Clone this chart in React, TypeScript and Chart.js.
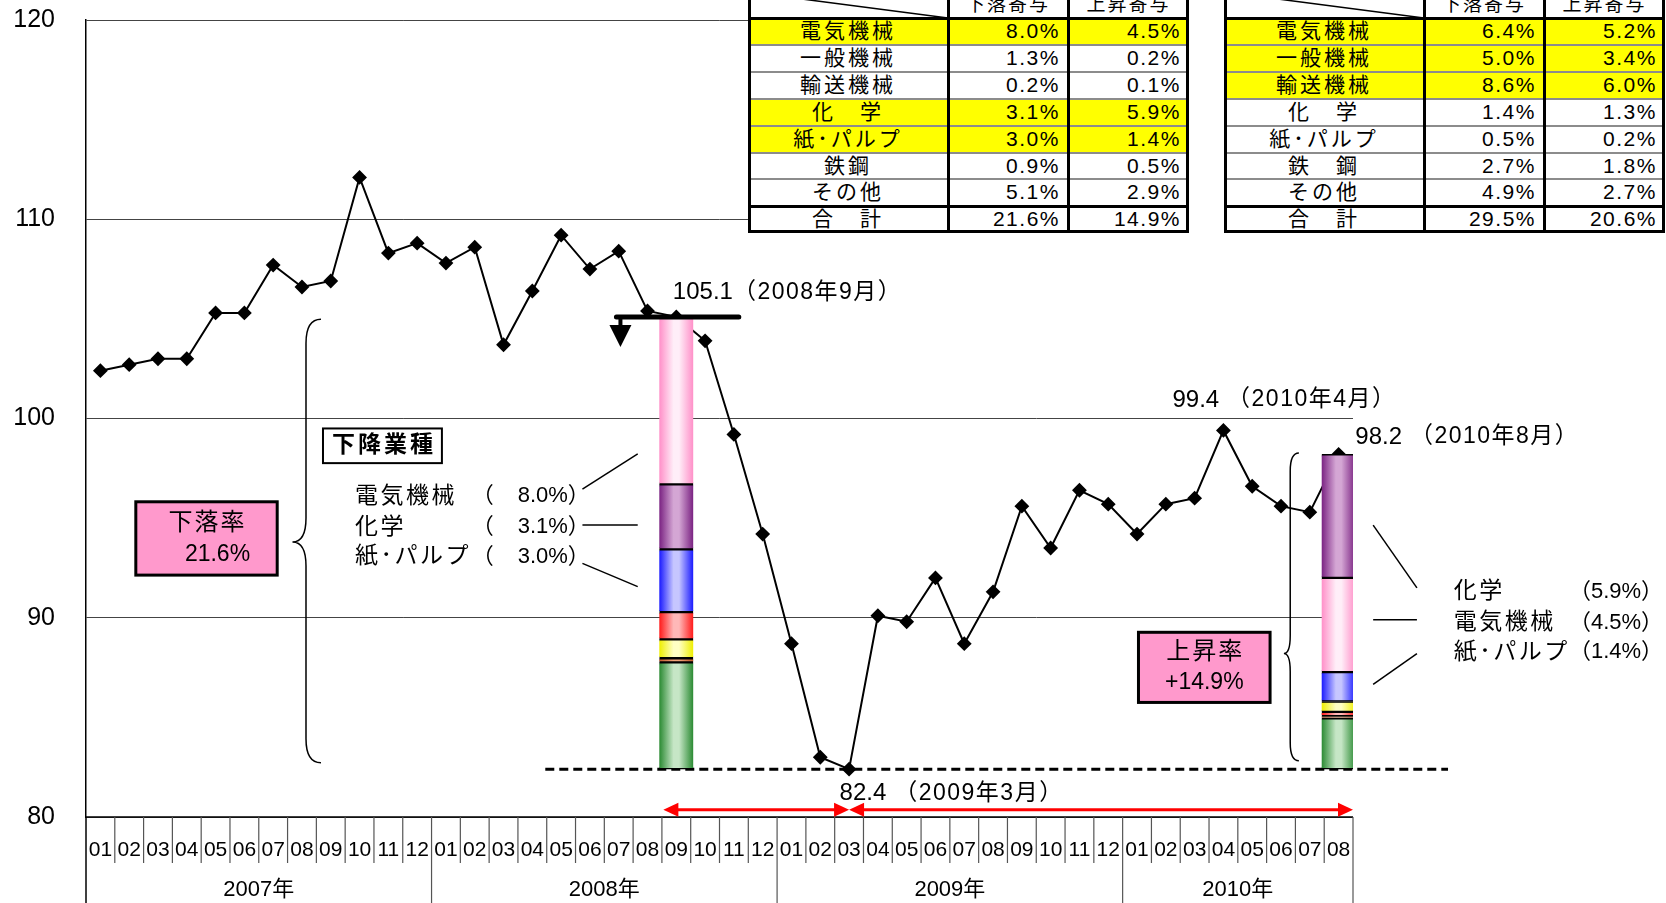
import React, { useEffect, useRef } from 'react';
import { Chart, registerables } from 'chart.js';

Chart.register(...registerables);

const FONT = '"Liberation Sans", "Noto Sans CJK JP", sans-serif';

// 月ラベル（2007年01月〜2010年08月）
const monthLabels = [
  '01', '02', '03', '04', '05', '06', '07', '08', '09', '10', '11', '12',
  '01', '02', '03', '04', '05', '06', '07', '08', '09', '10', '11', '12',
  '01', '02', '03', '04', '05', '06', '07', '08', '09', '10', '11', '12',
  '01', '02', '03', '04', '05', '06', '07', '08',
];
const yearLabels = ['2007年', '2008年', '2009年', '2010年'];
const monthsInYear = [12, 12, 12, 8];

// 生産指数
const indexValues = [
  102.4, 102.7, 103.0, 103.0, 105.3, 105.3, 107.7, 106.6, 106.9, 112.1, 108.3, 108.8,
  107.8, 108.6, 103.7, 106.4, 109.2, 107.5, 108.4, 105.4, 105.1, 103.9, 99.2, 94.2,
  88.7, 83.0, 82.4, 90.1, 89.8, 92.0, 88.7, 91.3, 95.6, 93.5, 96.4, 95.7,
  94.2, 95.7, 96.0, 99.4, 96.6, 95.6, 95.3, 98.2,
];

// 業種別寄与度
const industries = ['電気機械', '一般機械', '輸送機械', '化学', '紙･パルプ', '鉄鋼', 'その他'];
const table1Names = ['電気機械', '一般機械', '輸送機械', '化　学', '紙･パルプ', '鉄鋼', 'その他'];
const table2Names = ['電気機械', '一般機械', '輸送機械', '化　学', '紙･パルプ', '鉄　鋼', 'その他'];
const tableHeads = ['下落寄与', '上昇寄与'];
const fall1 = [8.0, 1.3, 0.2, 3.1, 3.0, 0.9, 5.1];
const rise1 = [4.5, 0.2, 0.1, 5.9, 1.4, 0.5, 2.9];
const fall2 = [6.4, 5.0, 8.6, 1.4, 0.5, 2.7, 4.9];
const rise2 = [5.2, 3.4, 6.0, 1.3, 0.2, 1.8, 2.7];
const totals1 = [21.6, 14.9];
const totals2 = [29.5, 20.6];
const marked1 = [0, 3, 4];
const marked2 = [0, 1, 2];

const peakAt = 20;   // 2008年9月
const troughAt = 26; // 2009年3月
const highAt = 39;   // 2010年4月
const lastAt = 43;   // 2010年8月
const fallOrder = [0, 3, 4, 1, 5, 2, 6];
const riseOrder = [3, 0, 4, 5, 1, 2, 6];

// [縁の色, 中央の色]
const segColors = [
  ['#ff8fc8', '#ffeef8'],
  ['#ff1a1a', '#ffb8b8'],
  ['#c0582a', '#f2a47a'],
  ['#7a2282', '#d4a6d4'],
  ['#1a1aff', '#c6c6ff'],
  ['#eeee00', '#ffffc4'],
  ['#2a8a32', '#c6e6c6'],
];

const BAR_W = 34;
const AREA = { left: 86, top: 20, right: 1353, bottom: 817 };

function stack(order: number[], pct: number[], top: number, bottom: number) {
  const out: [number, number][] = [];
  let cur = top;
  order.forEach((k, n) => {
    const h = (pct[k] * indexValues[peakAt]) / 100;
    const lo = n === order.length - 1 ? bottom : Math.max(bottom, cur - h);
    out[k] = [lo, cur];
    cur = lo;
  });
  return out;
}

const fallStack = stack(fallOrder, fall1, indexValues[peakAt], indexValues[troughAt]);
const riseStack = stack(riseOrder, rise1, indexValues[lastAt], indexValues[troughAt]);

const grad = (dark: string, light: string) => (c: any) => {
  const chart = c.chart;
  const xs = chart.scales && chart.scales.x;
  if (c.type !== 'data' || !xs) return light;
  const cx = xs.getPixelForValue(c.dataIndex);
  if (!Number.isFinite(cx)) return light;
  const g = chart.ctx.createLinearGradient(cx - BAR_W / 2, 0, cx + BAR_W / 2, 0);
  g.addColorStop(0, dark);
  g.addColorStop(0.42, light);
  g.addColorStop(0.58, light);
  g.addColorStop(1, dark);
  return g;
};

const F = (size: number, bold = false) => `${bold ? 'bold ' : ''}${size}px ${FONT}`;

const decor = {
  id: 'decor',
  beforeDatasetsDraw(chart: any) {
    const { ctx } = chart;
    const X = (i: number) => chart.scales.x.getPixelForValue(i);
    const Y = (v: number) => chart.scales.y.getPixelForValue(v);
    ctx.save();
    ctx.strokeStyle = '#000';
    ctx.lineWidth = 3;
    ctx.setLineDash([9, 5]);
    ctx.beginPath();
    ctx.moveTo(X(15.45), Y(indexValues[troughAt]));
    ctx.lineTo(X(46.8), Y(indexValues[troughAt]));
    ctx.stroke();
    ctx.restore();
  },
  afterDatasetsDraw(chart: any) {
    const { ctx, chartArea } = chart;
    const X = (i: number) => chart.scales.x.getPixelForValue(i);
    const Y = (v: number) => chart.scales.y.getPixelForValue(v);
    const base = chartArea.bottom;
    const H = chart.height;
    ctx.save();

    const seg = (pts: number[][], w: number, color = '#000') => {
      ctx.strokeStyle = color;
      ctx.lineWidth = w;
      ctx.beginPath();
      pts.forEach(([x, y], n) => (n ? ctx.lineTo(x, y) : ctx.moveTo(x, y)));
      ctx.stroke();
    };
    const text = (s: string, x: number, y: number, font: string, align = 'left', spacing = 0) => {
      ctx.font = font;
      ctx.fillStyle = '#000';
      ctx.textAlign = align;
      ctx.textBaseline = 'middle';
      ctx.letterSpacing = `${spacing}px`;
      ctx.fillText(s, align === 'center' ? x + spacing / 2 : x, y);
      const w = ctx.measureText(s).width;
      ctx.letterSpacing = '0px';
      return w;
    };

    // x軸（月・年）
    seg([[chartArea.left, base], [chartArea.right, base]], 1.5);
    const edges: number[] = [];
    let acc = 0;
    monthsInYear.forEach((n) => { edges.push(acc); acc += n; });
    edges.push(acc);
    for (let k = 0; k <= monthLabels.length; k++) {
      const x = X(k - 0.5);
      const major = edges.includes(k);
      seg([[x, base], [x, major ? H : base + 46]], k === 0 ? 1.5 : 1.2, k === 0 ? '#000' : '#555');
    }
    monthLabels.forEach((m, k) => text(m, X(k), base + 33, F(21), 'center'));
    yearLabels.forEach((y, j) => {
      const cx = (X(edges[j] - 0.5) + X(edges[j + 1] - 0.5)) / 2;
      text(y, cx, base + 73, F(22), 'center');
    });

    // 2008年9月の水準線と下向き矢印
    const yPeak = Y(indexValues[peakAt]);
    ctx.lineCap = 'round';
    seg([[X(17.92), yPeak], [X(22.17), yPeak]], 5);
    ctx.lineCap = 'butt';
    const ax = X(18.06);
    seg([[ax, yPeak], [ax, yPeak + 12]], 4);
    ctx.fillStyle = '#000';
    ctx.beginPath();
    ctx.moveTo(ax - 11, yPeak + 8);
    ctx.lineTo(ax + 11, yPeak + 8);
    ctx.lineTo(ax, yPeak + 30);
    ctx.closePath();
    ctx.fill();

    // 赤い両矢印
    const yR = Y(80.37);
    const head = (tip: number, dir: number) => {
      ctx.fillStyle = '#ff0000';
      ctx.beginPath();
      ctx.moveTo(tip, yR);
      ctx.lineTo(tip - dir * 15, yR - 7);
      ctx.lineTo(tip - dir * 15, yR + 7);
      ctx.closePath();
      ctx.fill();
    };
    const xa = X(19.55), xb = X(troughAt), xc = X(43.5);
    seg([[xa + 8, yR], [xb - 8, yR]], 3, '#ff0000');
    seg([[xb + 8, yR], [xc - 8, yR]], 3, '#ff0000');
    head(xa, -1); head(xb, 1); head(xb, -1); head(xc, 1);

    // 数値ラベル
    const callout = (idx: number, i: number, v: number, gap: string) => {
      const val = indexValues[idx].toFixed(1);
      const w = text(val, X(i), Y(v), F(24));
      text(`${gap}（${2007 + Math.floor(idx / 12)}年${(idx % 12) + 1}月）`, X(i) + w, Y(v), F(23), 'left', 1.5);
    };
    callout(peakAt, 19.88, 106.31, '');
    callout(highAt, 37.23, 100.93, ' ');
    callout(lastAt, 43.58, 99.07, ' ');
    callout(troughAt, 25.67, 81.17, ' ');

    // 率の枠
    const rateBox = (i1: number, i2: number, v1: number, v2: number, title: string, value: string, shift: number) => {
      const x1 = X(i1), x2 = X(i2), y1 = Y(v1), y2 = Y(v2);
      ctx.fillStyle = '#ff99cc';
      ctx.fillRect(x1, y1, x2 - x1, y2 - y1);
      ctx.strokeStyle = '#000';
      ctx.lineWidth = 3;
      ctx.strokeRect(x1, y1, x2 - x1, y2 - y1);
      const cx = (x1 + x2) / 2;
      text(title, cx, y1 + (y2 - y1) * 0.29, F(24), 'center', 2);
      text(value, cx + shift, y1 + (y2 - y1) * 0.72, F(23), 'center');
    };
    rateBox(1.23, 6.14, 95.82, 92.14, '下落率', `${totals1[0]}%`, 11);
    rateBox(36.05, 40.62, 89.27, 85.75, '上昇率', `+${totals1[1]}%`, 0);

    // 中括弧
    const brace = (xTip: number, xSp: number, xEnd: number, vTop: number, vTip: number, vBot: number, r: number) => {
      const yT = Y(vTop), yM = Y(vTip), yB = Y(vBot);
      ctx.strokeStyle = '#000';
      ctx.lineWidth = 1.5;
      ctx.beginPath();
      ctx.moveTo(xEnd, yT);
      ctx.quadraticCurveTo(xSp, yT, xSp, yT + r);
      ctx.lineTo(xSp, yM - r);
      ctx.quadraticCurveTo(xSp, yM, xTip, yM);
      ctx.quadraticCurveTo(xSp, yM, xSp, yM + r);
      ctx.lineTo(xSp, yB - r);
      ctx.quadraticCurveTo(xSp, yB, xEnd, yB);
      ctx.stroke();
    };
    brace(X(6.67), X(7.14), X(7.66), 104.98, 93.8, 82.72, 24);
    brace(X(41.1), X(41.32), X(41.62), 98.27, 88.2, 82.82, 18);

    // 下降業種
    const bx1 = X(7.73), bx2 = X(11.86), by1 = Y(99.5), by2 = Y(97.76);
    ctx.fillStyle = '#fff';
    ctx.fillRect(bx1, by1, bx2 - bx1, by2 - by1);
    ctx.strokeStyle = '#000';
    ctx.lineWidth = 2;
    ctx.strokeRect(bx1, by1, bx2 - bx1, by2 - by1);
    text('下降業種', (bx1 + bx2) / 2, (by1 + by2) / 2, F(23, true), 'center', 3);

    // 業種リスト（左：下落、右：上昇）
    const leftRows = [96.09, 94.54, 93.05];
    fallOrder.slice(0, 3).forEach((k, n) => {
      const y = Y(leftRows[n]);
      text(industries[k], X(8.84), y, F(23), 'left', 2.5);
      text('（', X(12.9), y, F(22));
      text(`${fall1[k].toFixed(1)}%）`, X(14.49), y, F(22));
    });
    seg([[X(16.74), Y(96.46)], [X(18.66), Y(98.22)]], 1.5);
    seg([[X(16.74), Y(94.65)], [X(18.66), Y(94.65)]], 1.5);
    seg([[X(16.74), Y(92.73)], [X(18.66), Y(91.56)]], 1.5);

    const rightRows = [91.29, 89.75, 88.26];
    riseOrder.slice(0, 3).forEach((k, n) => {
      const y = Y(rightRows[n]);
      text(industries[k], X(47.0), y, F(23), 'left', 2.5);
      text(`（${rise1[k].toFixed(1)}%）`, X(51.0), y, F(22));
    });
    seg([[X(44.2), Y(94.65)], [X(45.72), Y(91.5)]], 1.5);
    seg([[X(44.2), Y(89.9)], [X(45.72), Y(89.9)]], 1.5);
    seg([[X(44.2), Y(86.66)], [X(45.72), Y(88.2)]], 1.5);

    ctx.restore();
  },
};

interface TableProps {
  left: number;
  names: string[];
  fall: number[];
  rise: number[];
  totals: number[];
  marked: number[];
}

function ContribTable({ left, names, fall, rise, totals, marked }: TableProps) {
  const colX = [0, 200, 320, 441];
  const W = 441;
  const headH = 26;
  const rowH = 26.9;
  const rows = names.map((n, i) => ({ name: n, a: fall[i], b: rise[i], hi: marked.includes(i) }));
  rows.push({ name: '合　計', a: totals[0], b: totals[1], hi: false });
  const H = headH + rowH * rows.length;
  const base: React.CSSProperties = {
    position: 'absolute', fontFamily: FONT, color: '#000', whiteSpace: 'nowrap',
  };
  const hLine = (y: number, t: number, c: string, key: string) => (
    <div key={key} style={{ position: 'absolute', left: 0, width: W, top: y - t / 2, height: t, background: c }} />
  );
  const vLine = (x: number, key: string) => (
    <div key={key} style={{ position: 'absolute', top: 0, height: H, left: x - 1.5, width: 3, background: '#000' }} />
  );
  return (
    <div style={{ position: 'absolute', left, top: -8, width: W, height: H, background: '#fff' }}>
      {rows.map((r, i) =>
        r.hi ? (
          <div key={'bg' + i} style={{ position: 'absolute', left: 0, width: W, top: headH + i * rowH, height: rowH, background: '#ffff00' }} />
        ) : null,
      )}
      <svg style={{ position: 'absolute', left: 0, top: 0 }} width={colX[1]} height={headH}>
        <line x1={0} y1={0} x2={colX[1]} y2={headH} stroke="#000" strokeWidth={1.5} />
      </svg>
      {tableHeads.map((h, j) => (
        <div key={'h' + j} style={{ ...base, left: colX[j + 1], width: colX[j + 2] - colX[j + 1], top: 0, height: headH, lineHeight: `${headH}px`, textAlign: 'center', fontSize: 19, letterSpacing: 2 }}>
          {h}
        </div>
      ))}
      {rows.map((r, i) => (
        <React.Fragment key={'r' + i}>
          <div style={{ ...base, left: 0, width: colX[1], top: headH + i * rowH, height: rowH, lineHeight: `${rowH}px`, textAlign: 'center', fontSize: 21, letterSpacing: 3 }}>
            {r.name}
          </div>
          {[r.a, r.b].map((v, j) => (
            <div key={j} style={{ ...base, left: colX[j + 1], width: colX[j + 2] - colX[j + 1] - 8, top: headH + i * rowH, height: rowH, lineHeight: `${rowH}px`, textAlign: 'right', fontSize: 21, letterSpacing: 1.5 }}>
              {v.toFixed(1)}%
            </div>
          ))}
        </React.Fragment>
      ))}
      {rows.slice(1).map((_, i) =>
        i + 1 === rows.length - 1
          ? hLine(headH + (i + 1) * rowH, 3, '#000', 's' + i)
          : hLine(headH + (i + 1) * rowH, 2, '#8c8c8c', 's' + i),
      )}
      {hLine(headH, 3, '#000', 'head')}
      {hLine(H - 1.5, 3, '#000', 'bottom')}
      {vLine(1.5, 'v0')}
      {vLine(colX[1], 'v1')}
      {vLine(colX[2], 'v2')}
      {vLine(W - 1.5, 'v3')}
    </div>
  );
}

export default function App() {
  const canvasRef = useRef<HTMLCanvasElement>(null);

  useEffect(() => {
    if (!canvasRef.current) return;
    const barSets = industries.map((name, k) => ({
      type: 'bar' as const,
      label: name,
      data: indexValues.map((_, i) => (i === peakAt ? fallStack[k] : i === lastAt ? riseStack[k] : null)),
      backgroundColor: grad(segColors[k][0], segColors[k][1]),
      borderColor: '#000',
      borderWidth: { top: 1.5, bottom: 1.5, left: 0, right: 0 },
      borderSkipped: false,
      barThickness: BAR_W,
      grouped: false,
      order: 1,
    }));
    const chart = new Chart(canvasRef.current, {
      type: 'bar',
      data: {
        labels: monthLabels,
        datasets: [
          ...barSets,
          {
            type: 'line',
            label: '指数',
            data: indexValues,
            borderColor: '#000',
            borderWidth: 2,
            pointStyle: 'rectRot',
            pointRadius: 6,
            pointBackgroundColor: '#000',
            pointBorderColor: '#000',
            tension: 0,
            order: 2,
          },
        ] as any,
      },
      options: {
        animation: false,
        responsive: false,
        events: [],
        layout: { padding: { top: AREA.top, right: 1666 - AREA.right, bottom: 0, left: 0 } },
        plugins: { legend: { display: false }, tooltip: { enabled: false } },
        scales: {
          x: {
            type: 'category',
            offset: true,
            grid: { display: false },
            border: { display: false },
            ticks: { display: false },
            afterFit: (s: any) => { s.height = 903 - AREA.bottom; },
          },
          y: {
            min: 80,
            max: 120,
            ticks: { stepSize: 10, padding: 31, color: '#000', font: { family: FONT, size: 25 } },
            grid: { color: '#444', lineWidth: 1, drawTicks: false },
            border: { display: true, color: '#000', width: 1.5 },
            afterFit: (s: any) => {
              // 目盛りラベルの余白で描画領域が縮まないようにする
              s.width = AREA.left;
              s.paddingTop = 0;
              s.paddingBottom = 0;
            },
          },
        },
      } as any,
      plugins: [decor as any],
    });
    return () => chart.destroy();
  }, []);

  return (
    <div style={{ position: 'absolute', left: 0, top: 0, width: 1666, height: 903, overflow: 'hidden', background: '#fff' }}>
      <canvas ref={canvasRef} width={1666} height={903} style={{ position: 'absolute', left: 0, top: 0, width: 1666, height: 903 }} />
      <div style={{ position: 'absolute', left: 748, top: 0, width: 918, height: 234, background: '#fff' }} />
      <ContribTable left={748} names={table1Names} fall={fall1} rise={rise1} totals={totals1} marked={marked1} />
      <ContribTable left={1224} names={table2Names} fall={fall2} rise={rise2} totals={totals2} marked={marked2} />
    </div>
  );
}
